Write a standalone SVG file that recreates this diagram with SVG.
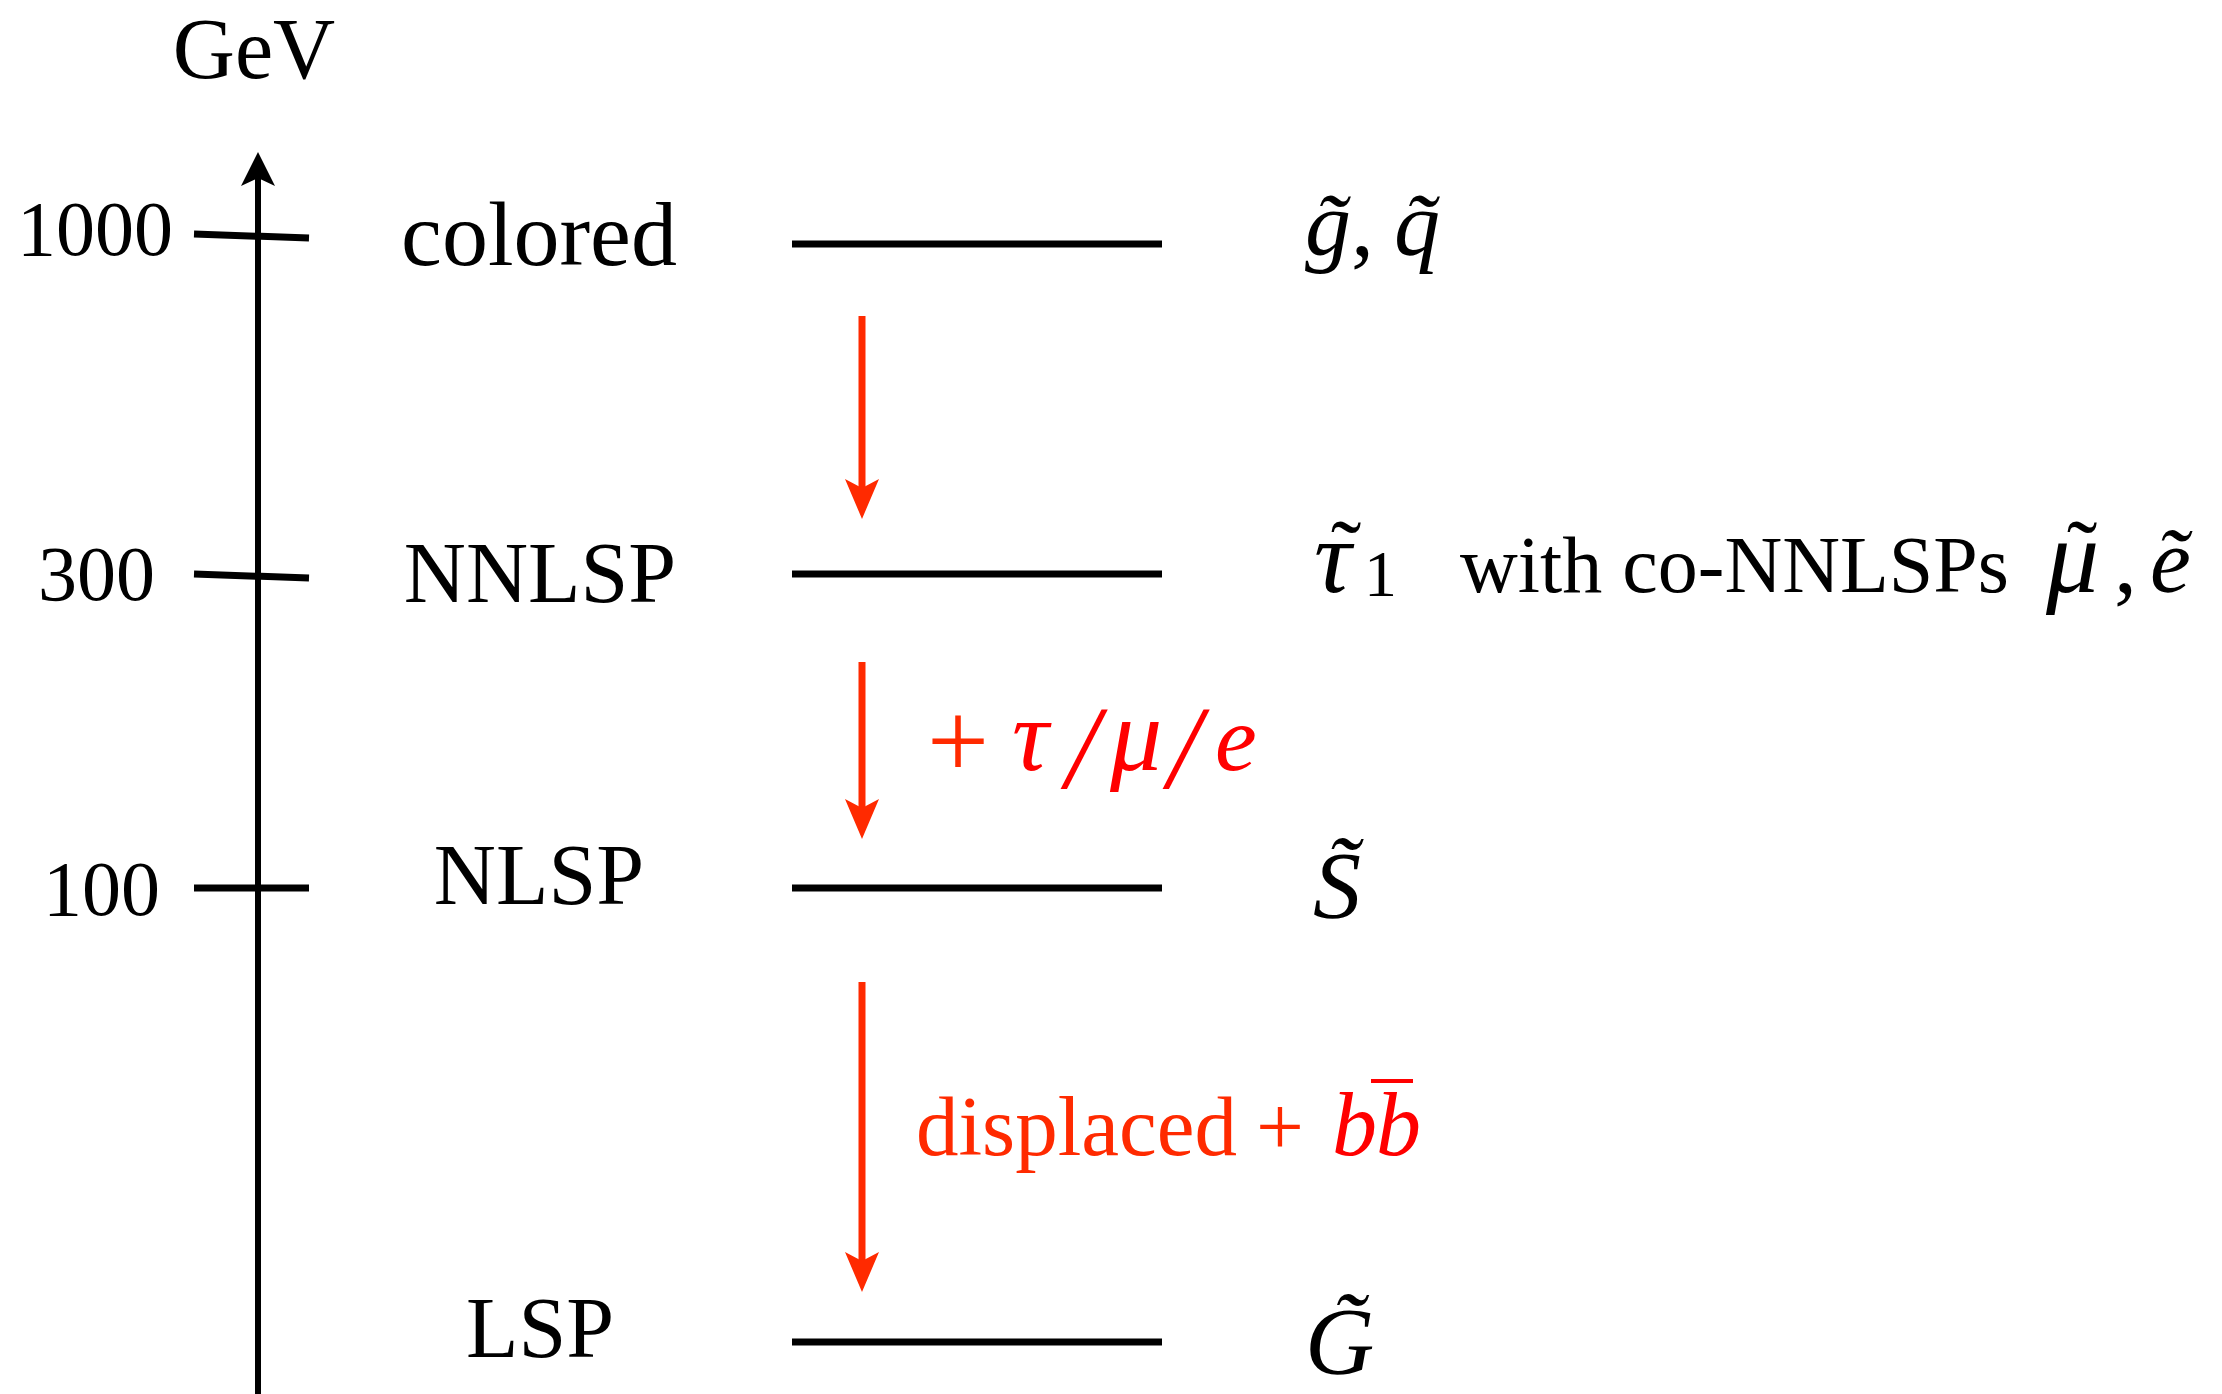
<svg xmlns="http://www.w3.org/2000/svg" width="2222" height="1394" viewBox="0 0 2222 1394">
<style>
.rm{font-family:"Liberation Serif","Times New Roman",serif;fill:#000}
.it{font-family:"Liberation Serif","Times New Roman",serif;font-style:italic;fill:#000}
.lvl{stroke:#000;stroke-width:7;fill:none}
.tick{stroke:#000;stroke-width:7;fill:none}
.red{fill:#ff2a00}
.redm{fill:#ff0000}
.arr{stroke:#ff2a00;stroke-width:7;fill:none;marker-end:url(#ah-red)}
</style>
<defs>
<marker id="ah-red" markerUnits="userSpaceOnUse" viewBox="-25 -20 50 40" refX="0" refY="0" markerWidth="50" markerHeight="40" orient="auto">
<path d="M22,0 L-18,-17 L-9,0 L-18,17 Z" fill="#ff2a00"/>
</marker>
<marker id="ah-black" markerUnits="userSpaceOnUse" viewBox="-25 -20 50 40" refX="0" refY="0" markerWidth="50" markerHeight="40" orient="auto">
<path d="M20,0 L-14,-17 L-6,0 L-14,17 Z" fill="#000"/>
</marker>
</defs>
<rect width="2222" height="1394" fill="#fff"/>

<g id="axis">
<line x1="258" y1="1394" x2="258" y2="172" stroke="#000" stroke-width="6" marker-end="url(#ah-black)"/>
<text class="rm" x="254" y="78" font-size="86" text-anchor="middle">GeV</text>
<line class="tick" x1="194" y1="234" x2="309" y2="238"/>
<line class="tick" x1="194" y1="574" x2="309" y2="578"/>
<line class="tick" x1="194" y1="888" x2="309" y2="888"/>
<text class="rm" x="17" y="255" font-size="78">1000</text>
<text class="rm" x="38" y="600" font-size="78">300</text>
<text class="rm" x="43" y="915" font-size="78">100</text>
</g>

<g id="colored">
<text class="rm" x="539" y="265" font-size="92" text-anchor="middle">colored</text>
<line class="lvl" x1="792" y1="244" x2="1162" y2="244"/>
<text class="it" font-size="92" x="1305" y="255">g̃<tspan font-style="normal">,</tspan><tspan x="1394">q̃</tspan></text>
</g>

<g id="nnlsp">
<text class="rm" x="540" y="602" font-size="86" text-anchor="middle">NNLSP</text>
<line class="lvl" x1="792" y1="574" x2="1162" y2="574"/>
<text class="it" font-size="104" x="1314" y="592">τ<tspan font-style="normal" font-size="92" x="1346" y="583" text-anchor="middle">˜</tspan><tspan font-style="normal" font-size="66" x="1364" y="596">1</tspan></text>
<text class="rm" x="1460" y="592" font-size="80">with co-NNLSPs</text>
<text class="it" font-size="106" x="2046" y="592">μ<tspan font-style="normal" font-size="92" x="2082" y="583" text-anchor="middle">˜</tspan><tspan font-style="normal" font-size="92" x="2114" y="592">,</tspan><tspan font-size="92" x="2150">ẽ</tspan></text>
</g>

<g id="nlsp">
<text class="rm" x="539" y="904" font-size="86" text-anchor="middle">NLSP</text>
<line class="lvl" x1="792" y1="888" x2="1162" y2="888"/>
<text class="it" font-size="96" x="1313" y="918">S̃</text>
</g>

<g id="lsp">
<text class="rm" x="540" y="1357" font-size="86" text-anchor="middle">LSP</text>
<line class="lvl" x1="792" y1="1342" x2="1162" y2="1342"/>
<text class="it" font-size="96" x="1305" y="1374">G̃</text>
</g>

<g id="connectors">
<line class="arr" x1="862" y1="316" x2="862" y2="497"/>
<line class="arr" x1="862" y1="662" x2="862" y2="817"/>
<line class="arr" x1="862" y1="982" x2="862" y2="1270"/>
</g>

<g id="label-tau-mu-e">
<text class="rm red" x="927" y="778" font-size="110">+</text>
<text class="it redm" x="1012" y="770" font-size="102">τ</text>
<text class="it redm" x="1066" y="788" font-size="118">/</text>
<text class="it redm" x="1110" y="770" font-size="104">μ</text>
<text class="it redm" x="1168" y="788" font-size="118">/</text>
<text class="it redm" x="1215" y="770" font-size="94">e</text>
</g>

<g id="label-displaced">
<text class="rm red" x="916" y="1155" font-size="85">displaced</text>
<text class="rm red" x="1256" y="1155" font-size="85">+</text>
<text class="it redm" x="1332" y="1155" font-size="90">b</text>
<text class="it redm" x="1376" y="1155" font-size="90">b</text>
<line x1="1371" y1="1081" x2="1413" y2="1081" stroke="#ff0000" stroke-width="4"/>
</g>
</svg>
